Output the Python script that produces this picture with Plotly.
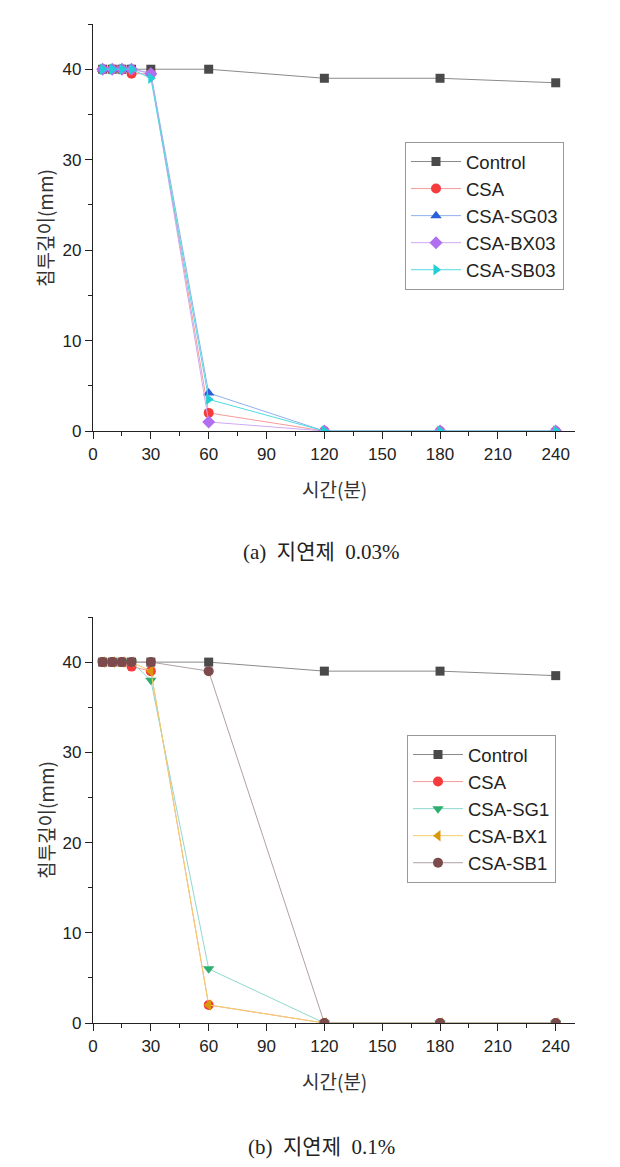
import plotly.graph_objects as go

time_min = [5, 10, 15, 20, 30, 60, 120, 180, 240]

# (a) retarder 0.03%
a_control = [40, 40, 40, 40, 40, 40, 39, 39, 38.5]
a_csa = [40, 40, 40, 39.5, 39.5, 2, 0, 0, 0]
a_sg03 = [40, 40, 40, 40, 39.6, 4.2, 0, 0, 0]
a_bx03 = [40, 40, 40, 40, 39.5, 1, 0, 0, 0]
a_sb03 = [40, 40, 40, 40, 39, 3.5, 0, 0, 0]

# (b) retarder 0.1%
b_control = [40, 40, 40, 40, 40, 40, 39, 39, 38.5]
b_csa = [40, 40, 40, 39.5, 39, 2, 0, 0, 0]
b_sg1 = [40, 40, 40, 40, 38, 6, 0, 0, 0]
b_bx1 = [40, 40, 40, 40, 39, 2, 0, 0, 0]
b_sb1 = [40, 40, 40, 40, 40, 39, 0, 0, 0]

x_ticks = [0, 30, 60, 90, 120, 150, 180, 210, 240]
y_ticks = [0, 10, 20, 30, 40]

fig = go.Figure()

def add(y, name, sym, mcol, lcol, size, xa, ya, leg):
    fig.add_trace(go.Scatter(
        x=time_min, y=y, name=name, mode="lines+markers",
        line=dict(color=lcol, width=1),
        marker=dict(symbol=sym, color=mcol, size=size),
        xaxis=xa, yaxis=ya, legend=leg))

add(a_control, "Control", "square", "#4a4a4a", "#8a8a8a", 9, "x", "y", "legend")
add(a_csa, "CSA", "circle", "#f53b3b", "#f79a9a", 10, "x", "y", "legend")
add(a_sg03, "CSA-SG03", "triangle-up", "#2b5fd9", "#8fb0ee", 10, "x", "y", "legend")
add(a_bx03, "CSA-BX03", "diamond", "#b06ef0", "#cfaaf3", 10, "x", "y", "legend")
add(a_sb03, "CSA-SB03", "triangle-right", "#1fd0d6", "#4fdbe0", 10, "x", "y", "legend")

add(b_control, "Control", "square", "#4a4a4a", "#8a8a8a", 9, "x2", "y2", "legend2")
add(b_csa, "CSA", "circle", "#f53b3b", "#f79a9a", 10, "x2", "y2", "legend2")
add(b_sg1, "CSA-SG1", "triangle-down", "#2fae72", "#8fd8d0", 10, "x2", "y2", "legend2")
add(b_bx1, "CSA-BX1", "triangle-left", "#d9980a", "#f2cf6a", 10, "x2", "y2", "legend2")
add(b_sb1, "CSA-SB1", "circle", "#7a4a4c", "#b0a0a4", 10, "x2", "y2", "legend2")

H = 1167.0
W = 620.0
xdom = [93 / W, 575 / W]
ydom_a = [1 - 431 / H, 1 - 24 / H]
ydom_b = [1 - 1023 / H, 1 - 617 / H]

tickfont = dict(family="Liberation Sans, Arial, sans-serif", size=17, color="#222")
axis_common = dict(showline=True, linecolor="#222", linewidth=1.2, ticks="outside",
                   ticklen=7, tickwidth=1.2, tickcolor="#222", showgrid=False,
                   zeroline=False, tickfont=tickfont, mirror=False, automargin=False)

legfont = dict(family="Liberation Sans, Arial, sans-serif", size=18.5, color="#222")

fig.update_layout(
    width=620, height=1167, margin=dict(l=0, r=0, t=0, b=0),
    paper_bgcolor="white", plot_bgcolor="white", showlegend=True,
    xaxis=dict(domain=xdom, range=[0, 250], tickvals=x_ticks, anchor="y",
               minor=dict(dtick=15, tick0=15, ticks="outside", ticklen=4, tickcolor="#222"),
               **axis_common),
    yaxis=dict(domain=ydom_a, range=[0, 45], tickvals=y_ticks, anchor="x",
               minor=dict(dtick=5, tick0=5, ticks="outside", ticklen=4, tickcolor="#222"),
               **axis_common),
    xaxis2=dict(domain=xdom, range=[0, 250], tickvals=x_ticks, anchor="y2",
                minor=dict(dtick=15, tick0=15, ticks="outside", ticklen=4, tickcolor="#222"),
                **axis_common),
    yaxis2=dict(domain=ydom_b, range=[0, 45], tickvals=y_ticks, anchor="x2",
                minor=dict(dtick=5, tick0=5, ticks="outside", ticklen=4, tickcolor="#222"),
                **axis_common),
    legend=dict(x=405 / W, y=1 - 142 / H, xanchor="left", yanchor="top",
                bgcolor="white", bordercolor="#999", borderwidth=1, itemwidth=50,
                font=legfont, tracegroupgap=0),
    legend2=dict(x=407 / W, y=1 - 735 / H, xanchor="left", yanchor="top",
                 bgcolor="white", bordercolor="#999", borderwidth=1, itemwidth=50,
                 font=legfont, tracegroupgap=0),
)

kfont = dict(family="Noto Sans CJK KR, sans-serif", size=19, color="#333")
cfont = dict(family="Liberation Serif, Noto Sans CJK KR, serif", size=21, color="#222")
annots = [
    dict(text="시간(분)", x=334 / W, y=1 - 488 / H, font=kfont),
    dict(text="시간(분)", x=334 / W, y=1 - 1080 / H, font=kfont),
    dict(text="침투깊이(mm)", x=45 / W, y=1 - 228 / H, textangle=-90, font=kfont),
    dict(text="침투깊이(mm)", x=45 / W, y=1 - 820 / H, textangle=-90, font=kfont),
    dict(text="(a)  지연제  0.03%", x=321 / W, y=1 - 552 / H, font=cfont),
    dict(text="(b)  지연제  0.1%", x=321 / W, y=1 - 1147 / H, font=cfont),
]
for a in annots:
    fig.add_annotation(xref="paper", yref="paper", showarrow=False,
                       xanchor="center", yanchor="middle", **a)

fig.write_html("out.html", config={"displayModeBar": False},
               post_script="document.body.style.margin='0';")
